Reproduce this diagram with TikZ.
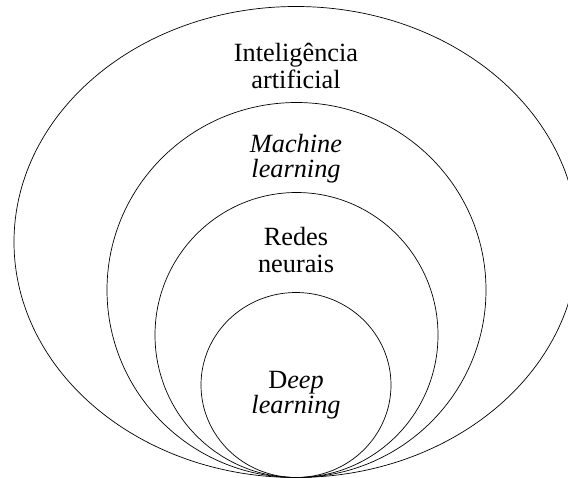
\documentclass[tikz,border=0pt]{standalone}
\usepackage{fontspec}
\setmainfont{Liberation Serif}
\begin{document}
\begin{tikzpicture}[x=1pt,y=-1pt,
  ring/.style={draw=black,line width=0.7pt},
  lbl/.style={anchor=base,inner sep=0pt,font=\fontsize{26.3}{27}\selectfont}]
\useasboundingbox (0,0) rectangle (568,477);
\coordinate (cAI) at (296,242);
\coordinate (cML) at (296.5,290);
\coordinate (cRN) at (296.5,335);
\coordinate (cDL) at (296,385);
\draw[ring] (cAI) ellipse [x radius=282, y radius=235.5];
\draw[ring] (cML) ellipse [x radius=189.5, y radius=187.5];
\draw[ring] (cRN) ellipse [x radius=141.5, y radius=142.5];
\draw[ring] (cDL) ellipse [x radius=95, y radius=92.5];
\node[lbl] (ai1) at (296,61.7) {Inteligência};
\node[lbl] (ai2) at (296,88.3) {artificial};
\node[lbl] (ml1) at (296,152.5) {\textit{Machine}};
\node[lbl] (ml2) at (296,177) {\textit{learning}};
\node[lbl] (rn1) at (296,245) {Redes};
\node[lbl] (rn2) at (296,272) {neurais};
\node[lbl] (dl1) at (296,388) {D\textit{eep}};
\node[lbl] (dl2) at (296,413) {\textit{learning}};
\end{tikzpicture}
\end{document}
